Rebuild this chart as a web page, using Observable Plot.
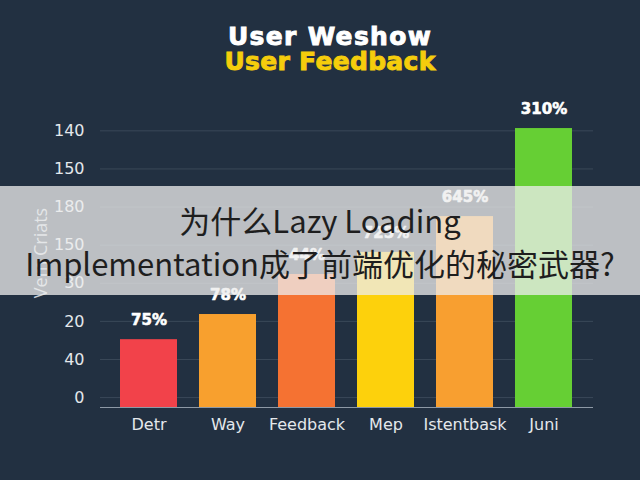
<!DOCTYPE html>
<html>
<head>
<meta charset="utf-8">
<script src="https://cdn.jsdelivr.net/npm/d3@7"></script>
<script src="https://cdn.jsdelivr.net/npm/@observablehq/plot@0.6"></script>
<style>
  html, body { margin: 0; padding: 0; background: #223041; }
  #wrap { position: relative; width: 640px; height: 480px; overflow: hidden; background: #223041; }
  #chart { position: absolute; left: 0; top: 0; }
  .title { position: absolute; left: 10px; width: 640px; text-align: center; font-family: "DejaVu Sans", sans-serif; font-weight: bold; font-size: 25px; line-height: 1; -webkit-text-stroke: 0.9px currentColor; }
  #t1 { top: 24px; color: #ffffff; letter-spacing: 1.3px; }
  #t2 { top: 49px; color: #f5cd0c; letter-spacing: 0.3px; }
  #ylabel { position: absolute; left: 40px; top: 253px; transform: translate(-50%, -50%) rotate(-90deg); font-family: "Open Sans", sans-serif; font-size: 18px; color: #c8d0d8; white-space: nowrap; }
  #band { position: absolute; left: 0; top: 186px; width: 640px; height: 109px; background: rgba(236,236,236,0.76); display: flex; align-items: center; justify-content: center; text-align: center; font-family: "Noto Sans CJK SC", sans-serif; font-size: 31px; line-height: 43px; color: #1e1e1e; }
</style>
</head>
<body>
<div id="wrap">
  <div id="chart"></div>
  <div class="title" id="t1">User Weshow</div>
  <div class="title" id="t2">User Feedback</div>
  <div id="ylabel">Vem Criats</div>
  <div id="band"><div>为什么Lazy Loading<br>Implementation成了前端优化的秘密武器?</div></div>
</div>
<script>
// Categories and values (values in y-tick units)
const categories = ["Detr", "Way", "Feedback", "Mep", "Istentbask", "Juni"];
const values = [1.52, 2.18, 3.23, 3.81, 4.75, 7.06];
const valueLabels = ["75%", "78%", "44%", "725%", "645%", "310%"];
const barColors = ["#f2424a", "#f8a02e", "#f57232", "#fdd10c", "#f89f30", "#66cf34"];
// Y tick labels as printed on the chart, bottom to top
const yTickLabels = ["0", "40", "20", "30", "150", "180", "150", "140"];
const yTickPositions = yTickLabels.map((_, i) => i);
const yMin = -0.26, yMax = 7.35;

const data = categories.map((c, i) => ({name: c, value: values[i], label: valueLabels[i], color: barColors[i]}));

const chart = Plot.plot({
  width: 640,
  height: 480,
  marginTop: 117,
  marginBottom: 73,
  marginLeft: 100,
  marginRight: 47,
  style: {background: "transparent", fontFamily: "DejaVu Sans, sans-serif", color: "#dde2e8"},
  x: {domain: categories, paddingInner: 0.275, paddingOuter: 0.22},
  y: {domain: [yMin, yMax]},
  marks: [
    Plot.gridY(yTickPositions, {stroke: "#3a4858", strokeOpacity: 1, strokeWidth: 1}),
    Plot.axisY(yTickPositions, {tickSize: 0, tickPadding: 16, tickFormat: d => yTickLabels[d], fontSize: 16, fill: "#e4e8ec", label: null}),
    Plot.axisX({tickSize: 0, tickPadding: 11, fontSize: 16, fill: "#e4e8ec", label: null}),
    Plot.barY(data, {x: "name", y1: yMin, y2: "value", fill: "color"}),
    Plot.ruleY([yMin], {stroke: "#8e99a6", strokeWidth: 1.2}),
    Plot.text(data, {x: "name", y: "value", text: "label", dy: -19, fill: "#ffffff", stroke: "#ffffff", strokeWidth: 0.6, fontSize: 15, fontWeight: "bold", fontFamily: "DejaVu Sans, sans-serif"})
  ]
});
document.getElementById("chart").appendChild(chart);
</script>
</body>
</html>
